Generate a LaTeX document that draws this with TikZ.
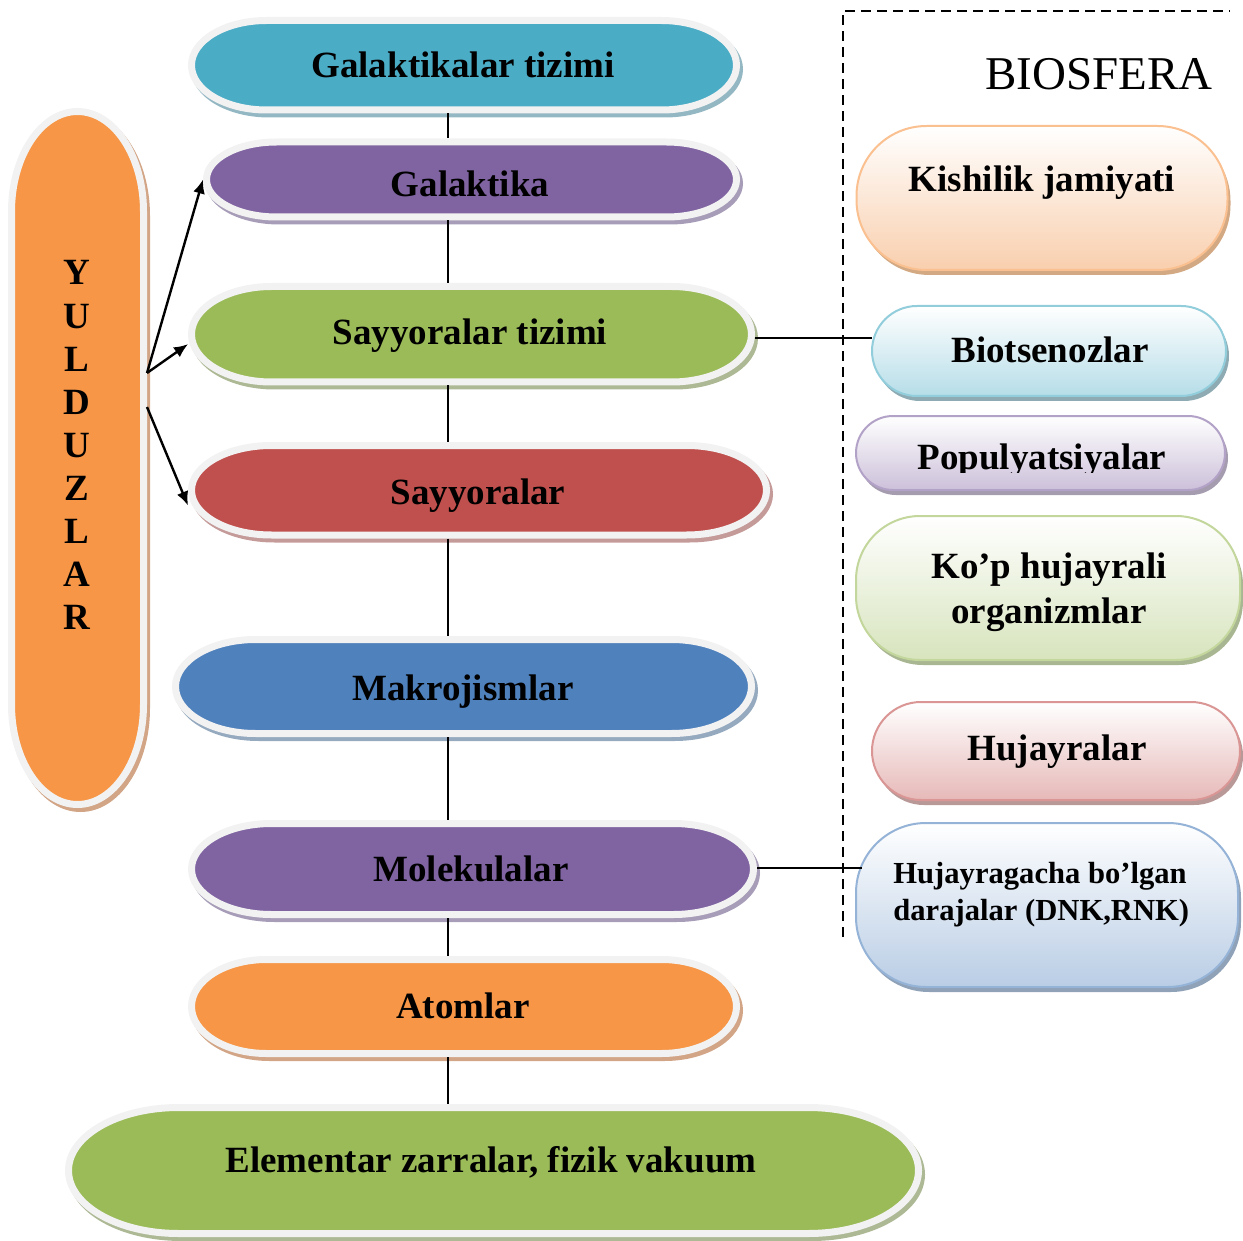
\documentclass[tikz,border=0pt]{standalone}
\usepackage{fontspec}
\setmainfont{Liberation Serif}
\usetikzlibrary{arrows.meta}
\definecolor{bordergray}{HTML}{F2F2F2}
\definecolor{cBlue}{HTML}{4BACC6}\definecolor{sBlue}{HTML}{93B7C3}
\definecolor{cPurple}{HTML}{8064A2}\definecolor{sPurple}{HTML}{A89DB8}
\definecolor{cGreen}{HTML}{9BBB59}\definecolor{sGreen}{HTML}{ADB995}
\definecolor{cRed}{HTML}{C0504D}\definecolor{sRed}{HTML}{C59B9A}
\definecolor{cBlueB}{HTML}{4F81BD}\definecolor{sBlueB}{HTML}{95A9BF}
\definecolor{cOrange}{HTML}{F79646}\definecolor{sOrange}{HTML}{D2A586}
% right boxes: border, bottom, shadow
\definecolor{kB}{HTML}{FAC090}\definecolor{kF}{HTML}{F9CFAE}\definecolor{kS}{HTML}{D3A983}
\definecolor{bB}{HTML}{92CDDC}\definecolor{bF}{HTML}{B6DDE8}\definecolor{bS}{HTML}{8EABB3}
\definecolor{pB}{HTML}{B3A2C7}\definecolor{pF}{HTML}{CCC0DA}\definecolor{pS}{HTML}{A59CB0}
\definecolor{oB}{HTML}{C3D69B}\definecolor{oF}{HTML}{D7E4BD}\definecolor{oS}{HTML}{A9B692}
\definecolor{hB}{HTML}{D99694}\definecolor{hF}{HTML}{E6B9B8}\definecolor{hS}{HTML}{B99998}
\definecolor{gB}{HTML}{95B3D7}\definecolor{gF}{HTML}{B9CDE5}\definecolor{gS}{HTML}{8FA2B8}

\newcommand\pillpath[5]{(#1+#5,#2) -- (#3-#5,#2) arc[start angle=90,end angle=-90,x radius={#5*0.5pt},y radius={(#4-#2)*0.25pt}] -- (#1+#5,#4) arc[start angle=270,end angle=90,x radius={#5*0.5pt},y radius={(#4-#2)*0.25pt}] -- cycle}
\newcommand\vpillpath[5]{(#1,#2+#5) arc[start angle=180,end angle=0,x radius={(#3-#1)*0.25pt},y radius={#5*0.5pt}] -- (#3,#4-#5) arc[start angle=0,end angle=-180,x radius={(#3-#1)*0.25pt},y radius={#5*0.5pt}] -- cycle}
\newcommand\lshape[8]{%
  \draw[line width=3.5pt, draw=#8, fill=#8, shift={(3,4)}] \pillpath{#2}{#3}{#4}{#5}{#6};
  \draw[line width=3.5pt, draw=bordergray, fill=#7] \pillpath{#2}{#3}{#4}{#5}{#6};
  \node[inner sep=0pt, outer sep=0pt, minimum width={(#4-#2+7)*0.5pt}, minimum height={(#5-#3+7)*0.5pt}] (#1) at ({(#2+#4)/2},{(#3+#5)/2}) {};
}

\tikzset{
  lbl/.style={font=\fontsize{18.5pt}{22pt}\selectfont\bfseries, inner sep=0pt, anchor=base},
  slbl/.style={font=\fontsize{15.3pt}{18pt}\selectfont\bfseries, inner sep=0pt, anchor=base west},
  rbox/.style n args={3}{draw=#1, line width=1pt, top color=white, bottom color=#2,
     inner sep=0pt, outer sep=0pt,
     preaction={fill=#3, transform canvas={shift={(1.5pt,-2.5pt)}}}},
  conn/.style={line width=0.75pt, draw=black},
  arr/.style={line width=1.2pt, draw=black, -{Latex[length=7pt,width=6pt]}},
  frame/.style={line width=0.9pt, dash pattern=on 5pt off 3pt}
}

\begin{document}
\begin{tikzpicture}[x=0.5pt, y=-0.5pt]
\useasboundingbox (0,0) rectangle (1243,1241);

% dashed frame of the biosphere
\coordinate (fc) at (843,11);
\coordinate (fb) at (843,937);
\coordinate (fr) at (1230,11);
\draw[frame] (fb) -- (fc) -- (fr);
\node[font=\fontsize{23.5pt}{28pt}\selectfont, inner sep=0pt, anchor=base] (bio) at (1099,90) {BIOSFERA};

% left column shapes
\lshape{gt}{191.5}{20.5}{736.5}{110}{75}{cBlue}{sBlue}
\lshape{gk}{206.5}{142}{736.5}{217}{70}{cPurple}{sPurple}
\lshape{st}{191.5}{286.5}{751.5}{382}{80}{cGreen}{sGreen}
\lshape{sy}{191.5}{445.5}{766.5}{535}{80}{cRed}{sRed}
\lshape{mk}{175.5}{639.5}{751.5}{733.5}{80}{cBlueB}{sBlueB}
\lshape{mo}{191.5}{823.5}{753.5}{914.5}{80}{cPurple}{sPurple}
\lshape{at}{191.5}{959.5}{736.5}{1053.5}{75}{cOrange}{sOrange}
\lshape{el}{68.5}{1107.5}{918.5}{1233.5}{110}{cGreen}{sGreen}

% YULDUZLAR
\draw[line width=3.5pt, draw=sOrange, fill=sOrange, shift={(3,4)}] \vpillpath{11.5}{111.5}{143.5}{804.5}{100};
\draw[line width=3.5pt, draw=bordergray, fill=cOrange] \vpillpath{11.5}{111.5}{143.5}{804.5}{100};
\node[inner sep=0pt, outer sep=0pt, minimum width=68pt, minimum height=350pt] (yul) at (77.5,458) {};
\foreach \l [count=\i] in {Y,U,L,D,U,Z,L,A,R}
  \node[lbl] (yl\i) at (77,{285+43.1*(\i-1)}) {\l};

% labels of left column
\node[lbl] (gt-t) at (463,78) {Galaktikalar tizimi};
\node[lbl] (gk-t) at (470,197) {Galaktika};
\node[lbl] (st-t) at (470,345) {Sayyoralar tizimi};
\node[lbl] (sy-t) at (478,504) {Sayyoralar};
\node[lbl] (mk-t) at (463,700) {Makrojismlar};
\node[lbl] (mo-t) at (471,881) {Molekulalar};
\node[lbl] (at-t) at (463,1018) {Atomlar};
\node[lbl] (el-t) at (491,1172) {Elementar zarralar, fizik vakuum};

% right boxes
\node[rbox={kB}{kF}{kS}, rounded corners=35pt, minimum width=185.5pt, minimum height=72pt] (ki) at (1042,198) {};
\node[rbox={bB}{bF}{bS}, rounded corners=22.5pt, minimum width=177pt, minimum height=45pt] (bi) at (1049,351) {};
\node[rbox={pB}{pF}{pS}, rounded corners=18.5pt, minimum width=184.5pt, minimum height=37pt] (po) at (1040.5,453) {};
\node[rbox={oB}{oF}{oS}, rounded corners=32pt, minimum width=192pt, minimum height=72pt] (ko) at (1048,588) {};
\node[rbox={hB}{hF}{hS}, rounded corners=24.5pt, minimum width=184pt, minimum height=49pt] (hu) at (1056,751) {};
\node[rbox={gB}{gF}{gS}, rounded corners=35pt, minimum width=191pt, minimum height=82pt] (hg) at (1047,905) {};

\node[lbl] (ki-t) at (1042,192) {Kishilik jamiyati};
\node[lbl] (bi-t) at (1050,363) {Biotsenozlar};
\begin{scope}
  \clip (850,400) rectangle (1235,472);
  \node[lbl] (po-t) at (1042,469) {Populyatsiyalar};
\end{scope}
\node[lbl] (ko-t1) at (1049,578) {Ko’p hujayrali};
\node[lbl] (ko-t2) at (1049,623) {organizmlar};
\node[lbl] (hu-t) at (1057,760) {Hujayralar};
\node[slbl] (hg-t1) at (893,883) {Hujayragacha bo’lgan};
\node[slbl] (hg-t2) at (893,920) {darajalar (DNK,RNK)};

% vertical connectors
\coordinate (vx) at (448,0);
\draw[conn] (vx |- gt.south) -- (vx |- gk.north);
\draw[conn] (vx |- gk.south) -- (vx |- st.north);
\draw[conn] (vx |- st.south) -- (vx |- sy.north);
\draw[conn] (vx |- sy.south) -- (vx |- mk.north);
\draw[conn] (vx |- mk.south) -- (vx |- mo.north);
\draw[conn] (vx |- mo.south) -- (vx |- at.north);
\draw[conn] (vx |- at.south) -- (vx |- el.north);

% horizontal connectors to the biosphere
\coordinate (hy1) at (0,338);
\coordinate (hg-in) at (862,868);
\draw[conn] (st.east |- hy1) -- (bi.west |- hy1);
\draw[conn] (mo.east |- hg-in) -- (hg-in);

% arrows from YULDUZLAR
\coordinate (ya) at (147,373);
\coordinate (yb) at (147,407);
\draw[arr] (ya) -- (gk.west);
\draw[arr] (ya) -- (st.182);
\draw[arr] (yb) -- (sy.183);
\end{tikzpicture}
\end{document}
